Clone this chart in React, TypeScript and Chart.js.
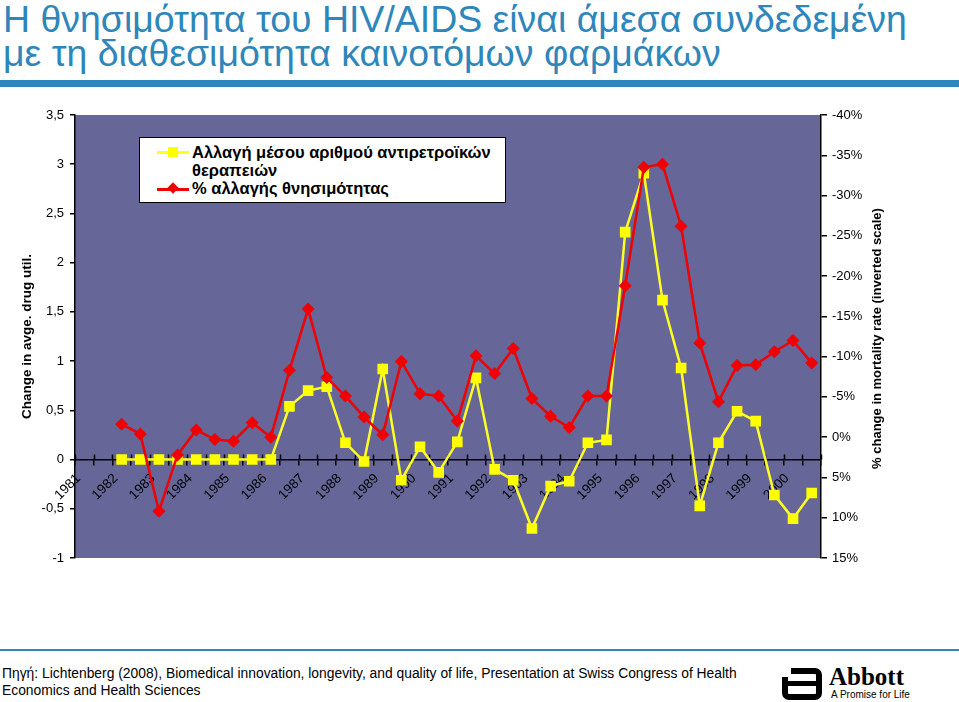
import React, { useEffect, useRef } from 'react';
import { Chart, registerables } from 'chart.js';

Chart.register(...registerables);

const FONT = "'Liberation Sans', Arial, Helvetica, sans-serif";

// Year tick labels (one label every two half-year slots)
const years = ['1981', '1982', '1983', '1984', '1985', '1986', '1987', '1988', '1989', '1990',
  '1991', '1992', '1993', '1994', '1995', '1996', '1997', '1998', '1999', '2000'];
const categories: string[] = years.flatMap((y) => [y, '']);

// Change in average number of antiretroviral drugs (left axis)
const drugUtil: (number | null)[] = [null, null, 0, 0, 0, 0, 0, 0, 0, 0, 0,
  0.54, 0.70, 0.74, 0.17, -0.02, 0.92, -0.21, 0.13, -0.13, 0.18, 0.83, -0.10, -0.21, -0.70,
  -0.27, -0.22, 0.17, 0.20, 2.31, 2.91, 1.62, 0.93, -0.47, 0.17, 0.49, 0.39, -0.36, -0.60, -0.34];

// % change in mortality (right axis, inverted)
const mortality: (number | null)[] = [null, null,
  -1.6, -0.4, 9.2, 2.2, -0.9, 0.3, 0.5, -1.8, 0.0, -8.3, -15.9, -7.4, -5.1, -2.5, -0.3, -9.4,
  -5.4, -5.1, -2.0, -10.1, -7.9, -11.0, -4.8, -2.6, -1.2, -5.1, -5.1, -18.8, -33.5, -33.9,
  -26.2, -11.7, -4.4, -8.9, -9.0, -10.6, -12.0, -9.2];

const leftTitle = 'Change in avge. drug util.';
const rightTitle = '% change in mortality rate (inverted scale)';
const legendDrug = ['Αλλαγή μέσου αριθμού αντιρετροϊκών', 'θεραπειών'];
const legendMort = '% αλλαγής θνησιμότητας';

const bgPlugin = {
  id: 'plotBg',
  beforeDraw(chart: any) {
    const { ctx, chartArea } = chart;
    ctx.save();
    ctx.fillStyle = '#666699';
    ctx.fillRect(chartArea.left, chartArea.top, chartArea.right - chartArea.left, chartArea.bottom - chartArea.top);
    ctx.restore();
  },
  beforeDatasetsDraw(chart: any) {
    const { ctx } = chart;
    const xs = chart.scales.x;
    const y0 = chart.scales.y.getPixelForValue(0);
    ctx.save();
    ctx.strokeStyle = '#000';
    ctx.lineWidth = 1.5;
    ctx.beginPath();
    for (let i = 0; i <= categories.length; i++) {
      const px = Math.round(xs.getPixelForValue(i - 0.5)) + 0.5;
      ctx.moveTo(px, y0 - 5);
      ctx.lineTo(px, y0);
    }
    ctx.stroke();
    ctx.restore();
  },
  afterDraw(chart: any) {
    const { ctx, chartArea } = chart;
    ctx.save();
    ctx.translate(877, (chartArea.top + chartArea.bottom) / 2 + 2);
    ctx.rotate(-Math.PI / 2);
    ctx.font = `bold 13px ${FONT}`;
    ctx.fillStyle = '#000';
    ctx.textAlign = 'center';
    ctx.textBaseline = 'middle';
    ctx.fillText(rightTitle, 0, 0);
    ctx.restore();
  },
};

function ChartCanvas() {
  const ref = useRef<HTMLCanvasElement | null>(null);
  useEffect(() => {
    if (!ref.current) return;
    const chart = new Chart(ref.current, {
      type: 'line',
      data: {
        labels: categories,
        datasets: [
          {
            label: legendMort,
            data: mortality,
            yAxisID: 'y1',
            borderColor: '#F00000',
            backgroundColor: '#F00000',
            borderWidth: 2.5,
            pointStyle: 'rectRot',
            pointRadius: 6.5,
            pointBorderWidth: 0,
            pointBackgroundColor: '#F00000',
            tension: 0,
            order: 0,
          },
          {
            label: legendDrug.join(' '),
            data: drugUtil,
            yAxisID: 'y',
            borderColor: '#FFFF22',
            backgroundColor: '#FFFF00',
            borderWidth: 2.5,
            pointStyle: 'rect',
            pointRadius: 7.5,
            pointBorderWidth: 0,
            pointBackgroundColor: '#FFFF00',
            tension: 0,
            order: 1,
          },
        ],
      },
      options: {
        responsive: false,
        animation: false,
        layout: { padding: { top: 15, bottom: 102, left: 0, right: 0 } },
        plugins: { legend: { display: false }, tooltip: { enabled: false } },
        scales: {
          x: {
            type: 'category',
            position: { y: 0 } as any,
            offset: true,
            afterFit: (s: any) => { s.height = 0; },
            grid: { display: true, drawOnChartArea: false, drawTicks: true, tickLength: 5, offset: true, color: '#000', lineWidth: 1.5 },
            border: { display: true, color: '#000', width: 1.5 },
            ticks: {
              autoSkip: false, maxRotation: 45, minRotation: 45, padding: 6, labelOffset: -6,
              color: '#000', font: { family: FONT, size: 13.5 },
            },
          },
          y: {
            position: 'left',
            min: -1, max: 3.5,
            afterFit: (s: any) => { s.width = 75; },
            grid: { display: true, drawOnChartArea: false, drawTicks: true, tickLength: 5, color: '#000', lineWidth: 1.5 },
            border: { display: true, color: '#000', width: 1.5 },
            ticks: {
              stepSize: 0.5, padding: 6, color: '#000', font: { family: FONT, size: 13 },
              callback: (v: any) => String(v).replace('.', ','),
            },
            title: {
              display: true, text: leftTitle, color: '#000',
              font: { family: FONT, size: 13.5, weight: 'bold' },
              padding: { top: 19, bottom: 0 },
            },
          },
          y1: {
            position: 'right',
            min: -40, max: 15, reverse: true,
            afterFit: (s: any) => { s.width = 138; },
            grid: { display: true, drawOnChartArea: false, drawTicks: true, tickLength: 6, color: '#000', lineWidth: 1.5 },
            border: { display: true, color: '#000', width: 1.5 },
            ticks: {
              stepSize: 5, padding: 5, color: '#000', font: { family: FONT, size: 13 },
              callback: (v: any) => `${v}%`,
            },
          },
        },
      },
      plugins: [bgPlugin],
    } as any);
    return () => chart.destroy();
  }, []);
  return (
    <canvas ref={ref} width={959} height={560}
      style={{ position: 'absolute', left: 0, top: 100, width: 959, height: 560 }} />
  );
}

export default function App() {
  useEffect(() => {
    document.body.style.margin = '0';
  }, []);
  const blue = '#2E86BA';
  return (
    <div style={{ position: 'relative', width: 959, height: 702, overflow: 'hidden', background: '#fff', fontFamily: FONT }}>
      <div style={{ position: 'absolute', left: 3, top: 3, color: blue, fontSize: 36, lineHeight: '34px', whiteSpace: 'nowrap', transform: 'scaleX(1.04)', transformOrigin: 'left top' }}>
        <div>Η θνησιμότητα του HIV/AIDS είναι άμεσα συνδεδεμένη</div>
        <div>με τη διαθεσιμότητα καινοτόμων φαρμάκων</div>
      </div>
      <div style={{ position: 'absolute', left: 0, top: 80, width: 959, height: 7, background: blue }} />
      <ChartCanvas />
      {/* legend */}
      <div style={{ position: 'absolute', left: 139, top: 137, width: 367, height: 66, background: '#fff', border: '1px solid #000', boxSizing: 'border-box' }}>
        <div style={{ position: 'absolute', left: 17, top: 13, width: 32, height: 2.5, background: '#FFFF22' }} />
        <div style={{ position: 'absolute', left: 28, top: 9, width: 10, height: 10, background: '#FFFF00' }} />
        <div style={{ position: 'absolute', left: 17, top: 50, width: 32, height: 2.5, background: '#F00000' }} />
        <div style={{ position: 'absolute', left: 29, top: 46, width: 8, height: 8, background: '#F00000', transform: 'rotate(45deg)' }} />
        <div style={{ position: 'absolute', left: 52, top: 5, fontSize: 16.5, fontWeight: 'bold', lineHeight: '18px', color: '#000', whiteSpace: 'nowrap' }}>
          <div>{legendDrug[0]}</div>
          <div>{legendDrug[1]}</div>
          <div>{legendMort}</div>
        </div>
      </div>
      <div style={{ position: 'absolute', left: 0, top: 649, width: 959, height: 2, background: blue }} />
      <div style={{ position: 'absolute', left: 2, top: 665, fontSize: 13.85, lineHeight: '17px', color: '#000', whiteSpace: 'nowrap' }}>
        <div>Πηγή: Lichtenberg (2008), Biomedical innovation, longevity, and quality of life, Presentation at Swiss Congress of Health</div>
        <div>Economics and Health Sciences</div>
      </div>
      {/* Abbott logo */}
      <div style={{ position: 'absolute', left: 782, top: 668, width: 40, height: 32, border: '6px solid #000', borderRadius: 7, boxSizing: 'border-box' }} />
      <div style={{ position: 'absolute', left: 777, top: 668, width: 14, height: 9, background: '#fff' }} />
      <div style={{ position: 'absolute', left: 782, top: 681, width: 34, height: 5, background: '#000' }} />
      <div style={{ position: 'absolute', left: 829, top: 663, fontFamily: "'Liberation Serif', 'DejaVu Serif', serif", fontWeight: 'bold', fontSize: 25, lineHeight: '28px', color: '#000' }}>Abbott</div>
      <div style={{ position: 'absolute', left: 831, top: 689, fontSize: 10, lineHeight: '12px', color: '#000', whiteSpace: 'nowrap' }}>A Promise for Life</div>
    </div>
  );
}
